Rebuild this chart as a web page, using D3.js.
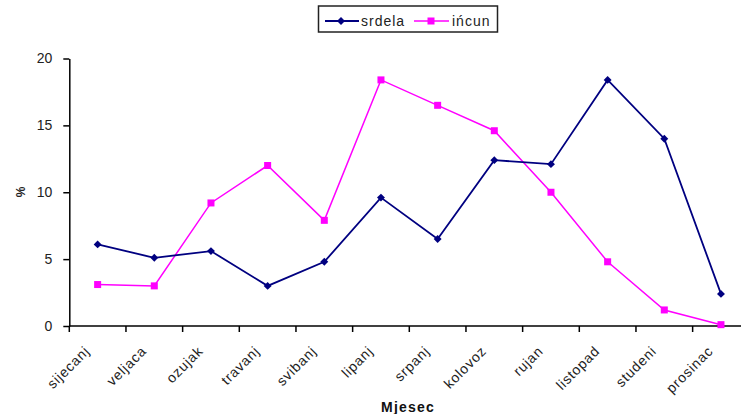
<!DOCTYPE html>
<html><head><meta charset="utf-8">
<script src="https://cdn.jsdelivr.net/npm/d3@7"></script>
<style>body{margin:0;background:#fff}svg{display:block;font-family:"Liberation Sans",Arial,sans-serif}</style>
</head><body><svg id="c" width="741" height="414"></svg>
<script>
const months = ["sijecanj","veljaca","ozujak","travanj","svibanj","lipanj","srpanj","kolovoz","rujan","listopad","studeni","prosinac"];
const srdela = [6.1,5.1,5.6,3.0,4.8,9.6,6.5,12.4,12.1,18.4,14.0,2.4];
const incun = [3.1,3.0,9.2,12.0,7.9,18.4,16.5,14.6,10.0,4.8,1.2,0.1];
const yTicks = [0,5,10,15,20];
const seriesNames = ["srdela","ińcun"];

const svg = d3.select("#c");
const x = d3.scaleBand().domain(months).range([69.3, 749.3]);
const y = d3.scaleLinear().domain([0,20]).range([326, 58.5]);

// y axis
const ya = svg.append("g").attr("transform","translate(69.3,0)")
  .call(d3.axisLeft(y).tickValues(yTicks).tickSize(6).tickSizeOuter(0).tickPadding(11));
ya.select(".domain").attr("stroke","#000").attr("stroke-width",1.5);
ya.selectAll(".tick line").attr("stroke","#000").attr("stroke-width",1.5);
ya.selectAll(".tick text").attr("font-size",14).attr("fill","#222").attr("font-family","Liberation Sans, Arial, sans-serif");

// x axis line
svg.append("line").attr("x1",69.3).attr("x2",741).attr("y1",y(0)).attr("y2",y(0)).attr("stroke","#000").attr("stroke-width",1.5);
svg.append("g").selectAll("line").data(months).join("line")
  .attr("x1",d=>x(d)).attr("x2",d=>x(d)).attr("y1",y(0)).attr("y2",y(0)+6)
  .attr("stroke","#000").attr("stroke-width",1.5);
svg.append("g").selectAll("text").data(months).join("text")
  .attr("transform",d=>`translate(${x(d)+x.bandwidth()/2-7},${y(0)+26}) rotate(-45)`)
  .attr("text-anchor","end").attr("font-size",14).attr("letter-spacing",0.8).attr("fill","#222").text(d=>d);

// axis titles
svg.append("text").attr("transform","translate(25,192) rotate(-90)").attr("text-anchor","middle")
  .attr("font-size",12).attr("font-weight","bold").attr("fill","#222").text("%");
svg.append("text").attr("x",408).attr("y",412).attr("text-anchor","middle")
  .attr("font-size",14).attr("font-weight","bold").attr("letter-spacing",1.2).attr("fill","#111").text("Mjesec");

const cx = d => x(d)+x.bandwidth()/2;
const line = d3.line().x((d,i)=>cx(months[i])).y(d=>y(d));

// incun
svg.append("path").datum(incun).attr("d",line).attr("fill","none").attr("stroke","#ff00ff").attr("stroke-width",1.5);
svg.append("g").selectAll("rect").data(incun).join("rect")
  .attr("x",(d,i)=>cx(months[i])-3.5).attr("y",d=>y(d)-3.5).attr("width",7).attr("height",7).attr("fill","#ff00ff");

// srdela
svg.append("path").datum(srdela).attr("d",line).attr("fill","none").attr("stroke","#000080").attr("stroke-width",1.8);
const diamond = d3.symbol().type(d3.symbolDiamond2).size(40);
svg.append("g").selectAll("path").data(srdela).join("path")
  .attr("d",diamond).attr("transform",(d,i)=>`translate(${cx(months[i])},${y(d)})`).attr("fill","#000080");

// legend
const lg = svg.append("g");
lg.append("rect").attr("x",318.5).attr("y",6).attr("width",179).attr("height",26).attr("fill","#fff").attr("stroke","#222").attr("stroke-width",1.5);
lg.append("line").attr("x1",325).attr("x2",359).attr("y1",21).attr("y2",21).attr("stroke","#000080").attr("stroke-width",1.8);
lg.append("path").attr("d",diamond).attr("transform","translate(341,21)").attr("fill","#000080");
lg.append("text").attr("x",361).attr("y",26).attr("font-size",14).attr("letter-spacing",1).attr("fill","#222").text(seriesNames[0]);
lg.append("line").attr("x1",414).attr("x2",449).attr("y1",21).attr("y2",21).attr("stroke","#ff00ff").attr("stroke-width",1.5);
lg.append("rect").attr("x",427.5).attr("y",17.5).attr("width",7).attr("height",7).attr("fill","#ff00ff");
lg.append("text").attr("x",452).attr("y",26).attr("font-size",14).attr("letter-spacing",1).attr("fill","#222").text(seriesNames[1]);
</script></body></html>
